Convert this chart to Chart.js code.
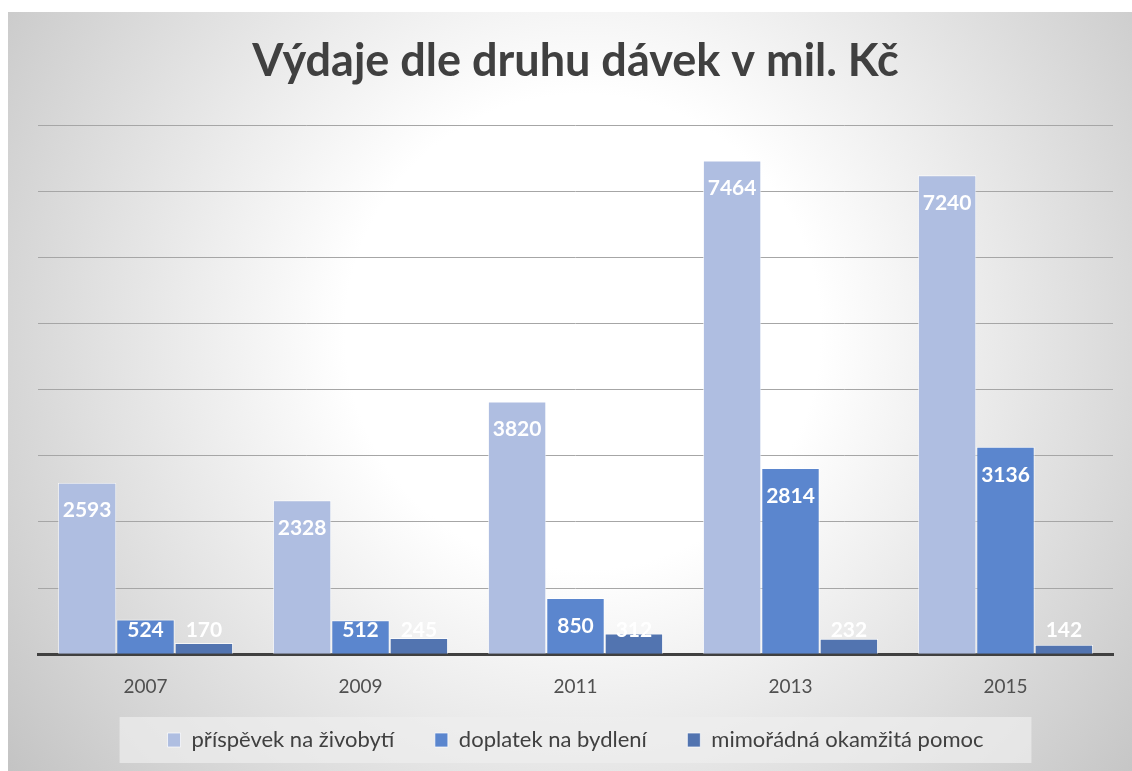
<!DOCTYPE html>
<html>
<head>
<meta charset="utf-8">
<script src="https://cdn.jsdelivr.net/npm/chart.js@4"></script>
<style>
  body { margin: 0; background: #fff; }
  #wrap { position: absolute; left: 8px; top: 12px; width: 1124px; height: 759px; }
</style>
</head>
<body>
<div id="wrap"><canvas id="canvas1" width="1124" height="759"></canvas></div>
<script>
var years = ["2007", "2009", "2011", "2013", "2015"];
var seriesNames = ["příspěvek na živobytí", "doplatek na bydlení", "mimořádná okamžitá pomoc"];
var prispevek = [2593, 2328, 3820, 7464, 7240];
var doplatek = [524, 512, 850, 2814, 3136];
var mimoradna = [170, 245, 312, 232, 142];
var colors = ["#AFBEE1", "#5B86CE", "#5274B0"];

var bgPlugin = {
  id: 'bg',
  beforeDraw: function (chart) {
    var ctx = chart.ctx;
    ctx.save();
    var g = ctx.createRadialGradient(575, 320, 0, 575, 320, 720);
    g.addColorStop(0, "#ffffff");
    g.addColorStop(0.33, "#ffffff");
    g.addColorStop(1, "#c4c4c4");
    ctx.fillStyle = g;
    ctx.fillRect(0, 0, chart.width, chart.height);
    // legend box
    var boxes = chart.legend.legendHitBoxes;
    if (boxes && boxes.length) {
      var first = boxes[0], last = boxes[boxes.length - 1];
      var cy = first.top + first.height / 2;
      ctx.fillStyle = "rgba(238,238,238,0.7)";
      ctx.fillRect(first.left - 48, cy - 23, (last.left + last.width) - first.left + 96, 46);
    }
    ctx.restore();
  }
};

var labelPlugin = {
  id: 'barLabels',
  afterDatasetsDraw: function (chart) {
    var ctx = chart.ctx;
    var bottom = chart.chartArea.bottom;
    ctx.save();
    ctx.font = "bold 21px Lato";
    ctx.fillStyle = "#ffffff";
    ctx.textAlign = "center";
    ctx.textBaseline = "middle";
    chart.data.datasets.forEach(function (ds, i) {
      chart.getDatasetMeta(i).data.forEach(function (bar, j) {
        var y = Math.min(bar.y + 28, bottom - 24);
        ctx.fillText(String(ds.data[j]), bar.x, y);
      });
    });
    ctx.restore();
  }
};

new Chart(document.getElementById("canvas1"), {
  type: 'bar',
  data: {
    labels: years,
    datasets: [
      { label: seriesNames[0], data: prispevek, backgroundColor: colors[0], borderColor: "rgba(255,255,255,0.7)", borderWidth: 1 },
      { label: seriesNames[1], data: doplatek, backgroundColor: colors[1], borderColor: "rgba(255,255,255,0.7)", borderWidth: 1 },
      { label: seriesNames[2], data: mimoradna, backgroundColor: colors[2], borderColor: "rgba(255,255,255,0.7)", borderWidth: 1 }
    ]
  },
  options: {
    responsive: false,
    animation: false,
    layout: { padding: { left: 30, right: 19, top: 0, bottom: 10 } },
    datasets: { bar: { barPercentage: 1, categoryPercentage: 0.815 } },
    plugins: {
      title: {
        display: true,
        text: "Výdaje dle druhu dávek v mil. Kč",
        color: "#404040",
        font: { family: "Lato", size: 45, weight: "bold", lineHeight: 1.2 },
        padding: { top: 22, bottom: 37 }
      },
      legend: {
        position: 'bottom',
        labels: {
          color: "#404040",
          font: { family: "Lato", size: 22 },
          boxWidth: 13,
          boxHeight: 14,
          padding: 18,
          generateLabels: function (chart) {
            var items = Chart.defaults.plugins.legend.labels.generateLabels(chart);
            items.forEach(function (it, i) {
              if (i < items.length - 1) it.text = it.text + "    ";
            });
            return items;
          }
        }
      },
      tooltip: { enabled: false }
    },
    scales: {
      x: {
        grid: { display: false },
        border: { color: "#404040", width: 3 },
        ticks: { color: "#505050", font: { family: "Lato", size: 19 }, padding: 13 }
      },
      y: {
        min: 0,
        max: 8000,
        ticks: { display: false, stepSize: 1000 },
        border: { display: false },
        grid: { color: "#a6a6a6", lineWidth: 1, drawTicks: false }
      }
    }
  },
  plugins: [bgPlugin, labelPlugin]
});
</script>
</body>
</html>
